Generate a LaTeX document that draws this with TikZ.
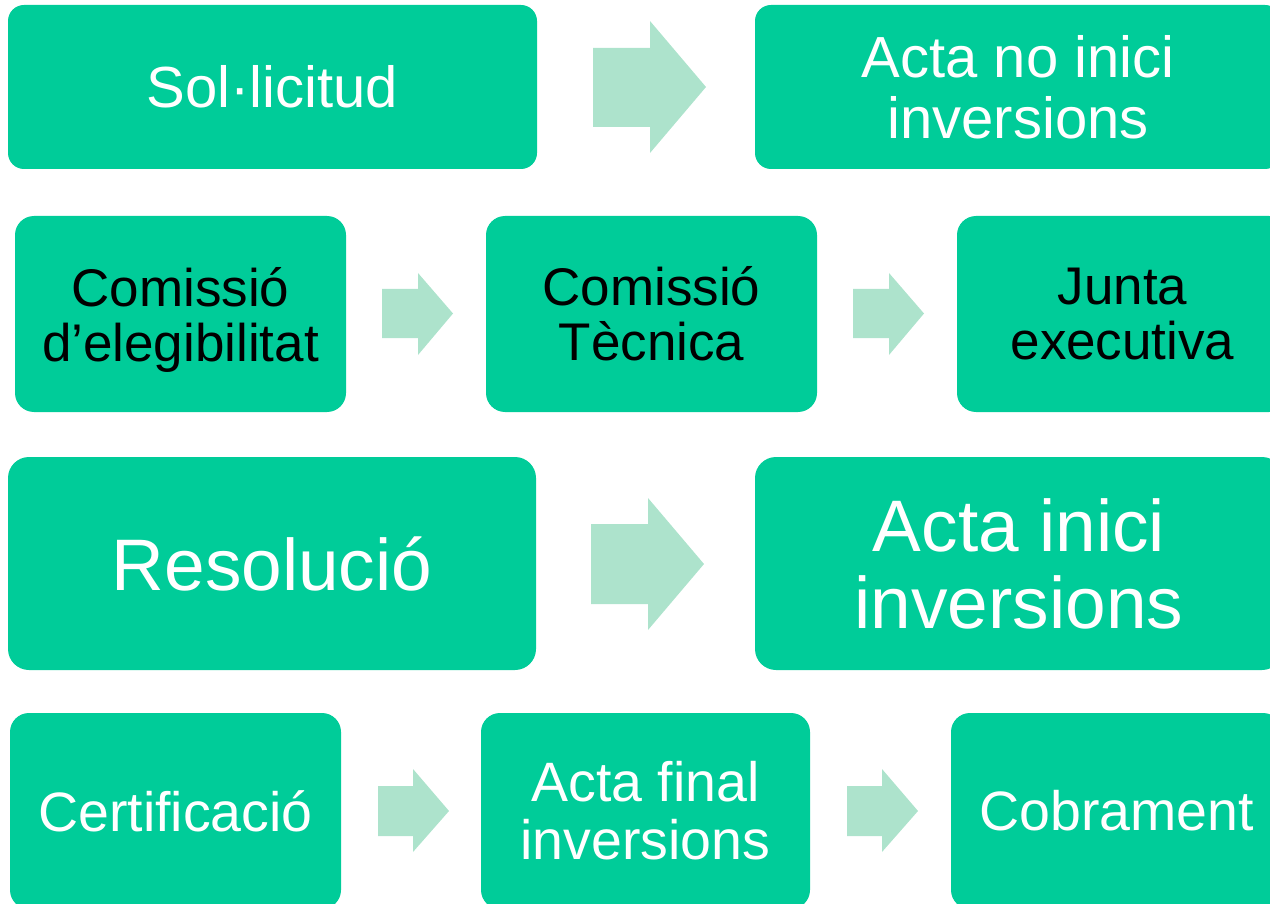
\documentclass[tikz,border=0pt]{standalone}
\usepackage{fontspec}
\setmainfont{Liberation Sans}
\definecolor{boxgreen}{HTML}{00CC99}
\definecolor{arrowmint}{HTML}{ADE3CC}
\tikzset{
  stepbox/.style={rectangle, fill=boxgreen, draw=none, inner sep=0pt, align=center},
  rowone/.style={stepbox, minimum height=164pt, rounded corners=16pt, text=white, font=\fontsize{58}{61}\selectfont},
  rowtwo/.style={stepbox, minimum width=331pt, minimum height=196pt, rounded corners=19pt, text=black, font=\fontsize{53}{55}\selectfont},
  rowthree/.style={stepbox, minimum height=213pt, rounded corners=21pt, text=white, font=\fontsize{73}{77}\selectfont},
  rowfour/.style={stepbox, minimum height=196pt, rounded corners=19pt, text=white, font=\fontsize{55.5}{58}\selectfont},
  blockarrow/.style={fill=arrowmint, draw=none}
}
\begin{document}
\begin{tikzpicture}[x=1pt,y=-1pt]
\useasboundingbox (0,0) rectangle (1270,904);
\clip (0,0) rectangle (1270,904);
% Row 1
\node[rowone, minimum width=529pt] (sol) at (272.5,87) {Sol·licitud};
\node[rowone, minimum width=526pt] (actano) at (1018,87) {Acta no inici\\inversions};
\fill[blockarrow] (593,48) -- (650,48) -- (650,21) -- (706,87) -- (650,153) -- (650,127) -- (593,127) -- cycle;
% Row 2
\node[rowtwo, text depth=0pt] (comeleg) at (180.5,314) {Comissió\\d’elegibilitat};
\node[rowtwo] (comtec) at (651.5,314) {Comissió\\Tècnica};
\node[rowtwo] (junta) at (1122.5,314) {Junta\\executiva};
\fill[blockarrow] (382,289) -- (418,289) -- (418,273) -- (453,313.5) -- (418,355) -- (418,338) -- (382,338) -- cycle;
\fill[blockarrow] (853,289) -- (889,289) -- (889,273) -- (924,313.5) -- (889,355) -- (889,338) -- (853,338) -- cycle;
% Row 3
\node[rowthree, minimum width=528pt] (resol) at (272,563.5) {Resolució};
\node[rowthree, minimum width=528pt] (actain) at (1019,563.5) {Acta inici\\inversions};
\fill[blockarrow] (591,524) -- (648,524) -- (648,498) -- (704,564) -- (648,630) -- (648,604) -- (591,604) -- cycle;
% Row 4
\node[rowfour, minimum width=331pt] (cert) at (175.5,811) {Certificació};
\node[rowfour, minimum width=329pt] (final) at (645.5,811) {Acta final\\inversions};
\node[rowfour, minimum width=331pt] (cobr) at (1116.5,811) {Cobrament};
\fill[blockarrow] (378,786) -- (413,786) -- (413,769) -- (449,811) -- (413,852) -- (413,836) -- (378,836) -- cycle;
\fill[blockarrow] (847,786) -- (882,786) -- (882,769) -- (918,811) -- (882,852) -- (882,836) -- (847,836) -- cycle;
\end{tikzpicture}
\end{document}
